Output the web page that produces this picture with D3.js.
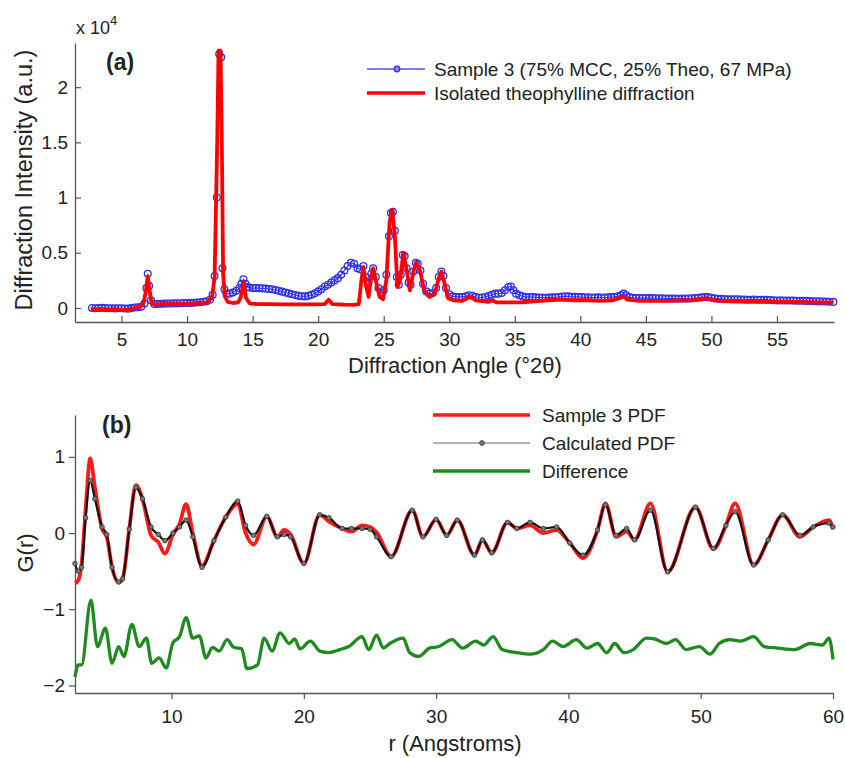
<!DOCTYPE html>
<html>
<head>
<meta charset="utf-8">
<script src="https://cdn.jsdelivr.net/npm/d3@7"></script>
<style>
  body { margin: 0; background: #fff; }
  svg { display: block; }
  text { font-family: "Liberation Sans", Arial, sans-serif; fill: #222; }
</style>
</head>
<body>
<svg id="fig" width="845" height="758"></svg>
<script>
// ---------- (a) X-ray diffraction patterns: [angle °2θ, intensity] ----------
const sample3 = [
  [2.75,0],[3.0,-20],[3.25,0],[3.5,10],[3.75,-10],[4.0,-30],[4.25,-20],[4.5,-40],[4.75,-20],[5.0,-30],
  [5.25,-50],[5.5,-60],[5.75,-10],[6.0,40],[6.25,70],[6.5,100],[6.75,400],[6.9,1800],[7.0,3100],[7.1,2000],
  [7.25,700],[7.5,350],[7.75,370],[8.0,380],[8.25,390],[8.5,400],[8.75,400],[9.0,420],[9.25,420],[9.5,430],
  [9.75,440],[10.0,450],[10.25,460],[10.5,480],[10.75,500],[11.0,520],[11.25,560],[11.5,600],[11.75,750],[11.95,1200],
  [12.1,2900],[12.27,10000],[12.45,23000],[12.6,22700],[12.7,3600],[12.85,1700],[13.0,1300],[13.25,1300],[13.5,1400],[13.75,1550],
  [14.0,1800],[14.15,2200],[14.3,2600],[14.45,2200],[14.6,1900],[14.75,1850],[15.0,1800],[15.25,1800],[15.5,1800],[15.75,1780],
  [16.0,1750],[16.25,1720],[16.5,1700],[16.75,1620],[17.0,1550],[17.25,1480],[17.5,1400],[17.75,1320],[18.0,1250],[18.25,1180],
  [18.5,1100],[18.75,1060],[19.0,1050],[19.25,1100],[19.5,1200],[19.75,1330],[20.0,1500],[20.25,1700],[20.5,1950],[20.75,2100],
  [21.0,2300],[21.25,2500],[21.5,2700],[21.75,3000],[22.0,3400],[22.25,3800],[22.5,4100],[22.75,4000],[23.0,3600],[23.2,3500],
  [23.45,3800],[23.65,2800],[23.85,2400],[24.05,3100],[24.2,3600],[24.4,2800],[24.6,1800],[24.8,1400],[25.0,1600],[25.2,3000],
  [25.4,6500],[25.55,8600],[25.7,8700],[25.85,7000],[26.0,2800],[26.15,2100],[26.3,3000],[26.45,4800],[26.6,4700],[26.75,3600],
  [26.9,2300],[27.05,2100],[27.25,3300],[27.45,4100],[27.6,4000],[27.8,3400],[28.0,2200],[28.25,1500],[28.5,1300],[28.75,1350],
  [29.0,1800],[29.2,2800],[29.4,3300],[29.55,2900],[29.75,1800],[30.0,1250],[30.25,1050],[30.5,1000],[30.75,1000],[31.0,1000],
  [31.25,1050],[31.5,1150],[31.75,1100],[32.0,1000],[32.25,950],[32.5,950],[32.75,1000],[33.0,1100],[33.25,1200],[33.5,1300],
  [33.75,1300],[34.0,1350],[34.25,1600],[34.5,1900],[34.7,1950],[34.9,1600],[35.1,1300],[35.35,1150],[35.6,1050],[35.85,1000],
  [36.1,1000],[36.35,980],[36.6,960],[36.85,950],[37.1,950],[37.35,930],[37.6,950],[37.85,960],[38.1,970],[38.35,1000],
  [38.6,1030],[38.85,1060],[39.1,1050],[39.35,1020],[39.6,1010],[39.85,1000],[40.1,990],[40.35,970],[40.6,960],[40.85,950],
  [41.1,950],[41.35,960],[41.6,950],[41.85,950],[42.1,960],[42.35,980],[42.6,1000],[42.85,1050],[43.1,1150],[43.3,1300],
  [43.5,1150],[43.75,980],[44.0,920],[44.25,900],[44.5,910],[44.75,900],[45.0,900],[45.25,890],[45.5,890],[45.75,880],
  [46.0,880],[46.25,870],[46.5,860],[46.75,850],[47.0,850],[47.25,850],[47.5,840],[47.75,850],[48.0,850],[48.25,860],
  [48.5,870],[48.75,900],[49.0,920],[49.25,960],[49.5,1000],[49.75,980],[50.0,920],[50.25,870],[50.5,840],[50.75,820],
  [51.0,800],[51.25,790],[51.5,780],[51.75,780],[52.0,780],[52.25,770],[52.5,760],[52.75,750],[53.0,750],[53.25,760],
  [53.5,750],[53.75,750],[54.0,750],[54.25,740],[54.5,720],[54.75,700],[55.0,680],[55.25,690],[55.5,680],[55.75,680],
  [56.0,680],[56.25,670],[56.5,660],[56.75,650],[57.0,650],[57.25,640],[57.5,630],[57.75,610],[58.0,600],[58.25,600],
  [58.5,590],[58.75,580],[59.0,570],[59.3,550]
];
const theophylline = [
  [2.65,-100],[3.0,-120],[3.5,-100],[4.0,-150],[4.5,-130],[5.0,-180],[5.5,-150],[5.8,-80],[6.1,50],[6.4,100],
  [6.7,500],[6.85,1500],[7.0,2850],[7.15,1500],[7.3,400],[7.5,330],[8,340],[9,380],[10,400],[11,450],
  [11.5,500],[11.9,900],[12.1,2800],[12.3,15000],[12.4,23300],[12.55,23300],[12.65,15000],[12.75,3000],[12.9,1000],[13.1,550],
  [13.5,450],[13.9,500],[14.1,1000],[14.3,2300],[14.5,900],[14.8,400],[15.5,350],[16.5,350],[17.5,330],[18.5,320],
  [19.5,320],[20.5,350],[20.8,750],[21.1,350],[22,300],[22.7,280],[23.1,350],[23.3,2500],[23.45,3700],[23.65,2000],
  [23.85,1000],[24.0,2500],[24.2,3600],[24.45,2200],[24.7,1000],[24.95,800],[25.2,2500],[25.45,7800],[25.65,8900],[25.85,6500],
  [26.05,1900],[26.25,2500],[26.5,5000],[26.7,3800],[27.0,1600],[27.3,3500],[27.5,4100],[27.75,3500],[28.1,1500],[28.5,1000],
  [28.9,1300],[29.2,2700],[29.4,3300],[29.6,2400],[29.9,900],[30.3,700],[31,650],[31.6,1050],[32,700],[33,550],
  [33.3,700],[33.6,500],[34.5,500],[35.5,500],[36.5,600],[37.5,700],[38.5,750],[39.5,700],[40.5,700],[41.5,650],
  [42.5,700],[43.3,1050],[43.6,750],[44.5,650],[45.5,650],[46.5,650],[47.5,680],[48.5,700],[49.6,880],[50.2,700],
  [51,620],[52,600],[53,600],[54,580],[55,550],[56,550],[57,520],[58,500],[59.3,480]
];
const angleTicks = [5,10,15,20,25,30,35,40,45,50,55];
const intensityTicks = [0,5000,10000,15000,20000];

// ---------- (b) pair distribution functions ----------
const rValues = [2.7,2.95,3.2,3.5,3.85,4.2,4.75,5.1,5.5,6.0,6.3,6.8,7.3,7.8,8.45,9.0,9.5,10.1,10.6,11.1,
  11.6,12.3,13.2,14.1,15.0,15.6,16.2,17.2,18.0,18.5,19.0,20.0,21.2,21.9,22.9,23.6,24.4,25.0,25.5,26.6,
  28.2,29.0,30.0,30.8,31.6,32.9,33.5,34.2,35.4,36.1,37.1,38.1,39.1,40.1,41.1,42.2,42.8,43.6,44.4,45.0,
  46.2,47.5,49.6,50.96,51.9,52.6,54.0,55.1,56.2,57.5,58.5,59.7,60.0];
const samplePDF = [-0.66,-0.62,-0.40,0.30,0.98,0.60,0.05,-0.05,-0.45,-0.65,-0.60,0.05,0.63,0.45,-0.03,-0.12,-0.27,-0.02,0.12,0.38,
  0.0,-0.43,-0.10,0.21,0.38,0.0,-0.15,0.22,-0.05,0.04,-0.02,-0.40,0.24,0.15,0.06,0.02,0.10,0.08,0.01,-0.31,
  0.30,-0.05,0.18,-0.03,0.17,-0.29,-0.09,-0.26,0.14,0.06,0.10,0.00,0.04,-0.13,-0.33,0.04,0.39,-0.05,0.02,-0.09,
  0.39,-0.51,0.34,-0.21,0.10,0.39,-0.42,-0.09,0.24,-0.05,0.08,0.17,0.05];
const calculatedPDF = [-0.40,-0.50,-0.45,0.20,0.69,0.45,0.08,-0.02,-0.45,-0.64,-0.60,0.05,0.60,0.45,0.08,-0.02,-0.10,0.00,0.08,0.17,
  -0.05,-0.45,-0.10,0.21,0.42,0.10,-0.03,0.22,-0.05,-0.02,-0.05,-0.40,0.24,0.20,0.06,0.06,0.06,0.05,-0.05,-0.31,
  0.30,-0.05,0.18,-0.03,0.17,-0.29,-0.09,-0.26,0.14,0.06,0.14,0.06,0.08,-0.13,-0.29,0.04,0.37,-0.03,0.06,-0.09,
  0.30,-0.51,0.34,-0.20,0.10,0.28,-0.42,-0.09,0.24,-0.03,0.08,0.13,0.08];
const difference = [
  [2.7,-1.89],[2.95,-1.73],[3.2,-1.73],[3.9,-0.88],[4.4,-1.49],[5.0,-1.25],[5.5,-1.71],[6.0,-1.49],[6.4,-1.62],[7.0,-1.2],
  [7.55,-1.49],[8.1,-1.38],[8.5,-1.71],[9.05,-1.64],[9.6,-1.77],[10.1,-1.44],[10.6,-1.36],[11.1,-1.11],[11.6,-1.38],[12.1,-1.35],
  [12.6,-1.64],[13.1,-1.5],[13.6,-1.55],[14.2,-1.4],[14.7,-1.5],[15.3,-1.52],[15.7,-1.78],[16.5,-1.73],[17.0,-1.38],[17.6,-1.55],
  [18.2,-1.31],[18.9,-1.45],[19.3,-1.39],[19.7,-1.52],[20.5,-1.42],[21.2,-1.55],[21.9,-1.57],[22.7,-1.53],[23.4,-1.49],[24.4,-1.36],
  [24.9,-1.53],[25.5,-1.34],[26.0,-1.51],[26.5,-1.45],[27.5,-1.38],[28.0,-1.57],[28.7,-1.62],[29.5,-1.51],[30.2,-1.49],[31.2,-1.4],
  [32.0,-1.51],[33.0,-1.42],[33.6,-1.47],[34.3,-1.36],[35.0,-1.53],[36.1,-1.57],[37.1,-1.59],[38.1,-1.53],[38.8,-1.42],[39.6,-1.49],
  [40.6,-1.4],[41.4,-1.51],[42.2,-1.45],[42.9,-1.57],[43.5,-1.45],[44.2,-1.57],[44.9,-1.53],[45.9,-1.38],[46.5,-1.39],[47.4,-1.45],
  [48.1,-1.4],[48.9,-1.53],[49.9,-1.49],[50.7,-1.59],[51.4,-1.45],[52.2,-1.4],[53.0,-1.42],[54.0,-1.36],[54.8,-1.49],[55.8,-1.51],
  [57.1,-1.53],[58.3,-1.45],[59.2,-1.47],[59.7,-1.38],[60.0,-1.66]
];
const rTicks = [10,20,30,40,50,60];
const gTicks = [-2,-1,0,1];

const svg = d3.select("#fig");
const axisColor = "#555";
const FONT = '"Liberation Sans", Arial, sans-serif';

function styleAxis(a) {
  a.select(".domain").attr("stroke", axisColor).attr("stroke-width", 1.3);
  a.selectAll(".tick line").attr("stroke", axisColor).attr("stroke-width", 1.2);
  a.selectAll(".tick text").attr("font-size", 19).attr("fill", "#222").style("font-family", FONT);
}

// ---------- panel (a) ----------
const xA = d3.scaleLinear().domain([1.45, 59.35]).range([75, 834]);
const yA = d3.scaleLinear().domain([-1270, 24000]).range([322, 43]);

const gA = svg.append("g");
const axA_x = gA.append("g").attr("transform", `translate(0,${yA.range()[0]})`)
  .call(d3.axisBottom(xA).tickValues(angleTicks).tickSizeInner(-6).tickSizeOuter(0).tickPadding(11).tickFormat(d3.format("d")));
const axA_y = gA.append("g").attr("transform", `translate(${xA.range()[0]},0)`)
  .call(d3.axisLeft(yA).tickValues(intensityTicks).tickSizeInner(-6).tickSizeOuter(0).tickPadding(7).tickFormat(d => d / 1e4));
styleAxis(axA_x); styleAxis(axA_y);

const lineA = d3.line().x(d => xA(d[0])).y(d => yA(d[1]));
gA.append("path").datum(sample3).attr("d", lineA)
  .attr("fill", "none").attr("stroke", "#3b3bf0").attr("stroke-width", 1.2);
gA.append("g").selectAll("circle").data(sample3).join("circle")
  .attr("cx", d => xA(d[0])).attr("cy", d => yA(d[1])).attr("r", 3.4)
  .attr("fill", "none").attr("stroke", "#3030e8").attr("stroke-width", 1.3);
gA.append("path").datum(theophylline).attr("d", lineA)
  .attr("fill", "none").attr("stroke", "#ff0000").attr("stroke-width", 3.8).attr("stroke-linejoin", "round");

// exponent label and panel tag
const expo = gA.append("text").attr("x", 76).attr("y", 34).attr("font-size", 18);
expo.append("tspan").text("x 10");
expo.append("tspan").attr("dy", -9).attr("font-size", 13).text("4");
gA.append("text").attr("x", 106).attr("y", 70).attr("font-size", 23).attr("font-weight", "bold").text("(a)");

gA.append("text").attr("x", 455).attr("y", 373).attr("text-anchor", "middle").attr("font-size", 22)
  .text("Diffraction Angle (°2θ)");
gA.append("text").attr("transform", "translate(32,180) rotate(-90)").attr("text-anchor", "middle").attr("font-size", 23.5)
  .text("Diffraction Intensity (a.u.)");

// legend (a)
const legA = gA.append("g");
legA.append("line").attr("x1", 367).attr("x2", 425).attr("y1", 69).attr("y2", 69).attr("stroke", "#5050f0").attr("stroke-width", 1.5);
legA.append("circle").attr("cx", 397).attr("cy", 69).attr("r", 2.8).attr("fill", "#8080ff").attr("stroke", "#3030e8").attr("stroke-width", 1.2);
legA.append("text").attr("x", 434).attr("y", 76).attr("font-size", 19).text("Sample 3 (75% MCC, 25% Theo, 67 MPa)");
legA.append("line").attr("x1", 367).attr("x2", 425).attr("y1", 93).attr("y2", 93).attr("stroke", "#ff0000").attr("stroke-width", 3.5);
legA.append("text").attr("x", 434).attr("y", 100).attr("font-size", 19).text("Isolated theophylline diffraction");

// ---------- panel (b) ----------
const xB = d3.scaleLinear().domain([2.7, 60]).range([75, 833]);
const yB = d3.scaleLinear().domain([-2.1, 1.55]).range([693, 415]);

const gB = svg.append("g");
const axB_x = gB.append("g").attr("transform", `translate(0,${yB.range()[0]})`)
  .call(d3.axisBottom(xB).tickValues(rTicks).tickSizeInner(6).tickSizeOuter(0).tickPadding(11).tickFormat(d3.format("d")));
const axB_y = gB.append("g").attr("transform", `translate(${xB.range()[0]},0)`)
  .call(d3.axisLeft(yB).tickValues(gTicks).tickSizeInner(6).tickSizeOuter(0).tickPadding(4).tickFormat(d3.format("d")));
styleAxis(axB_x); styleAxis(axB_y);

const pdfRows = rValues.map((r, i) => ({ r, s: samplePDF[i], c: calculatedPDF[i] }));
const curve = d3.curveMonotoneX;
gB.append("path").datum(pdfRows)
  .attr("d", d3.line().curve(curve).x(d => xB(d.r)).y(d => yB(d.s)))
  .attr("fill", "none").attr("stroke", "#ff1a1a").attr("stroke-width", 3.8);
gB.append("path").datum(pdfRows)
  .attr("d", d3.line().curve(curve).x(d => xB(d.r)).y(d => yB(d.c)))
  .attr("fill", "none").attr("stroke", "#111").attr("stroke-width", 2.2);
gB.append("g").selectAll("circle").data(pdfRows).join("circle")
  .attr("cx", d => xB(d.r)).attr("cy", d => yB(d.c)).attr("r", 2.3)
  .attr("fill", "#777").attr("stroke", "#333").attr("stroke-width", 0.8);
gB.append("path").datum(difference)
  .attr("d", d3.line().curve(curve).x(d => xB(d[0])).y(d => yB(d[1])))
  .attr("fill", "none").attr("stroke", "#1f8a1f").attr("stroke-width", 3.3);

gB.append("text").attr("x", 102).attr("y", 433).attr("font-size", 23).attr("font-weight", "bold").text("(b)");
gB.append("text").attr("x", 455).attr("y", 751).attr("text-anchor", "middle").attr("font-size", 22).text("r (Angstroms)");
gB.append("text").attr("transform", "translate(33,553) rotate(-90)").attr("text-anchor", "middle").attr("font-size", 22).text("G(r)");

// legend (b)
const legB = gB.append("g");
legB.append("line").attr("x1", 433).attr("x2", 530).attr("y1", 415).attr("y2", 415).attr("stroke", "#ff1a1a").attr("stroke-width", 3.5);
legB.append("text").attr("x", 542).attr("y", 422).attr("font-size", 19).text("Sample 3 PDF");
legB.append("line").attr("x1", 433).attr("x2", 530).attr("y1", 443).attr("y2", 443).attr("stroke", "#999").attr("stroke-width", 1.5);
legB.append("circle").attr("cx", 482).attr("cy", 443).attr("r", 2.4).attr("fill", "#777").attr("stroke", "#333").attr("stroke-width", 0.8);
legB.append("text").attr("x", 542).attr("y", 450).attr("font-size", 19).text("Calculated PDF");
legB.append("line").attr("x1", 433).attr("x2", 530).attr("y1", 471).attr("y2", 471).attr("stroke", "#1f8a1f").attr("stroke-width", 3.5);
legB.append("text").attr("x", 542).attr("y", 478).attr("font-size", 19).text("Difference");
</script>
</body>
</html>
